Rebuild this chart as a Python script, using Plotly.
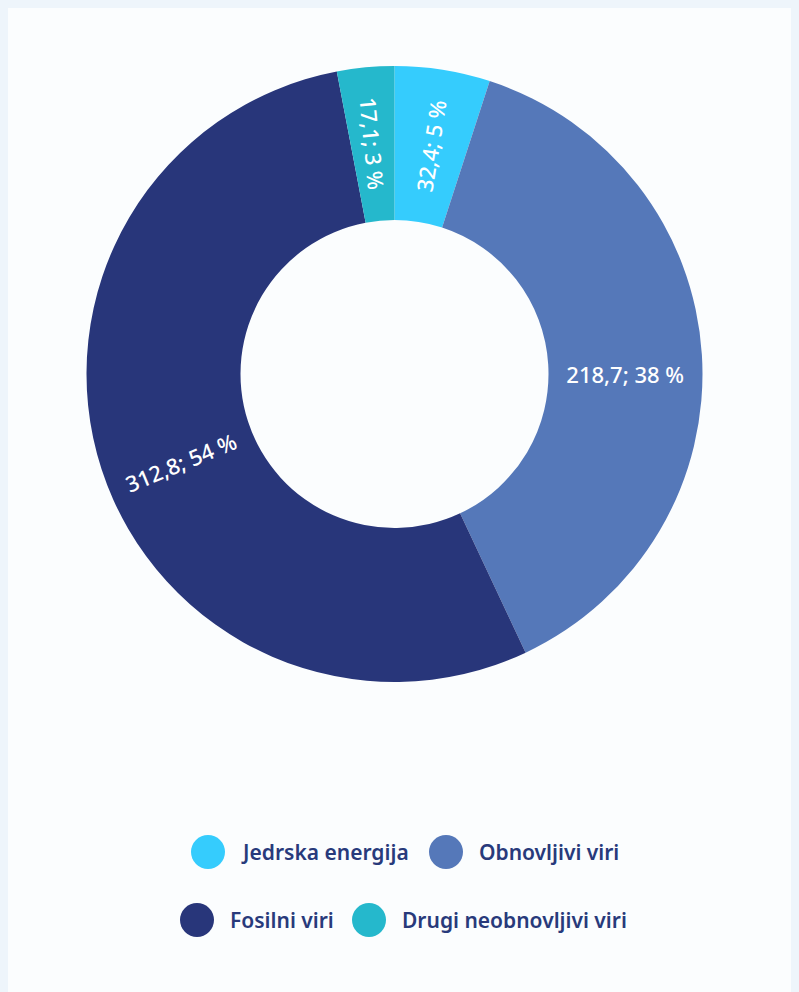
import math
import plotly.graph_objects as go

categories = ["Jedrska energija", "Obnovljivi viri", "Fosilni viri", "Drugi neobnovljivi viri"]
values = [32.4, 218.7, 312.8, 17.1]
percents = [5, 38, 54, 3]
colors = ["#35ccfd", "#5578b9", "#28367a", "#25b8cc"]

# page has 8px body margin; figure fills the rest of the 799x992 window
W, H = 791, 984
labels_text = [f"{str(v).replace('.', ',')}; {p} %" for v, p in zip(values, percents)]

cx, cy, R, HOLE = 386.5, 366, 308, 0.5

# slices whose labels are drawn as radial annotations (category -> angular nudge in degrees)
RADIAL_ANNOT = {"Fosilni viri": -4.5, "Drugi neobnovljivi viri": 0.0}
pie_text = ["" if c in RADIAL_ANNOT else t for c, t in zip(categories, labels_text)]

label_font = dict(family="Noto Sans", size=22, color="white", weight=500)

fig = go.Figure()
fig.add_trace(go.Pie(
    labels=categories,
    values=percents,
    text=pie_text,
    customdata=labels_text,
    textinfo="text",
    hovertemplate="%{label}<br>%{customdata}<extra></extra>",
    sort=False,
    direction="clockwise",
    rotation=0,
    hole=HOLE,
    marker=dict(colors=colors, line=dict(width=0)),
    textposition="inside",
    insidetextorientation="radial",
    insidetextfont=label_font,
    showlegend=False,
    domain=dict(x=[(cx - R) / W, (cx + R) / W], y=[1 - (cy + R) / H, 1 - (cy - R) / H]),
))

annotations = []
total = sum(percents)
cum = 0
for c, p, t in zip(categories, percents, labels_text):
    mid = (cum + p / 2) / total * 360.0
    cum += p
    if c not in RADIAL_ANNOT:
        continue
    ang = mid + RADIAL_ANNOT[c]
    rr = R * (1 + HOLE) / 2
    ax = cx + rr * math.sin(math.radians(ang))
    ay = cy - rr * math.cos(math.radians(ang))
    rot = ang - 90 if ang <= 180 else ang - 270
    annotations.append(dict(text=t, xref="paper", yref="paper", x=ax / W, y=1 - ay / H,
                            xanchor="center", yanchor="middle", showarrow=False,
                            textangle=rot, font=label_font))

shapes = []
legend_pos = [(200, 844), (438, 844), (189, 912), (361, 912)]
for name, col, (lx, ly) in zip(categories, colors, legend_pos):
    shapes.append(dict(type="circle", xref="paper", yref="paper", xsizemode="pixel", ysizemode="pixel",
                       xanchor=lx / W, yanchor=1 - ly / H, x0=-17, x1=17, y0=-17, y1=17,
                       fillcolor=col, line=dict(width=0)))
    annotations.append(dict(text=name, xref="paper", yref="paper", x=(lx + 31) / W, y=1 - ly / H,
                            xanchor="left", yanchor="middle", showarrow=False,
                            font=dict(family="Noto Sans", size=21, color="#283a7b", weight=600)))

fig.update_layout(
    width=W, height=H,
    margin=dict(l=0, r=0, t=0, b=0),
    paper_bgcolor="#fbfdfe",
    shapes=shapes,
    annotations=annotations,
)
fig.write_html("out.html", post_script="document.body.style.background='#eef5fb';document.body.style.overflow='hidden';")
